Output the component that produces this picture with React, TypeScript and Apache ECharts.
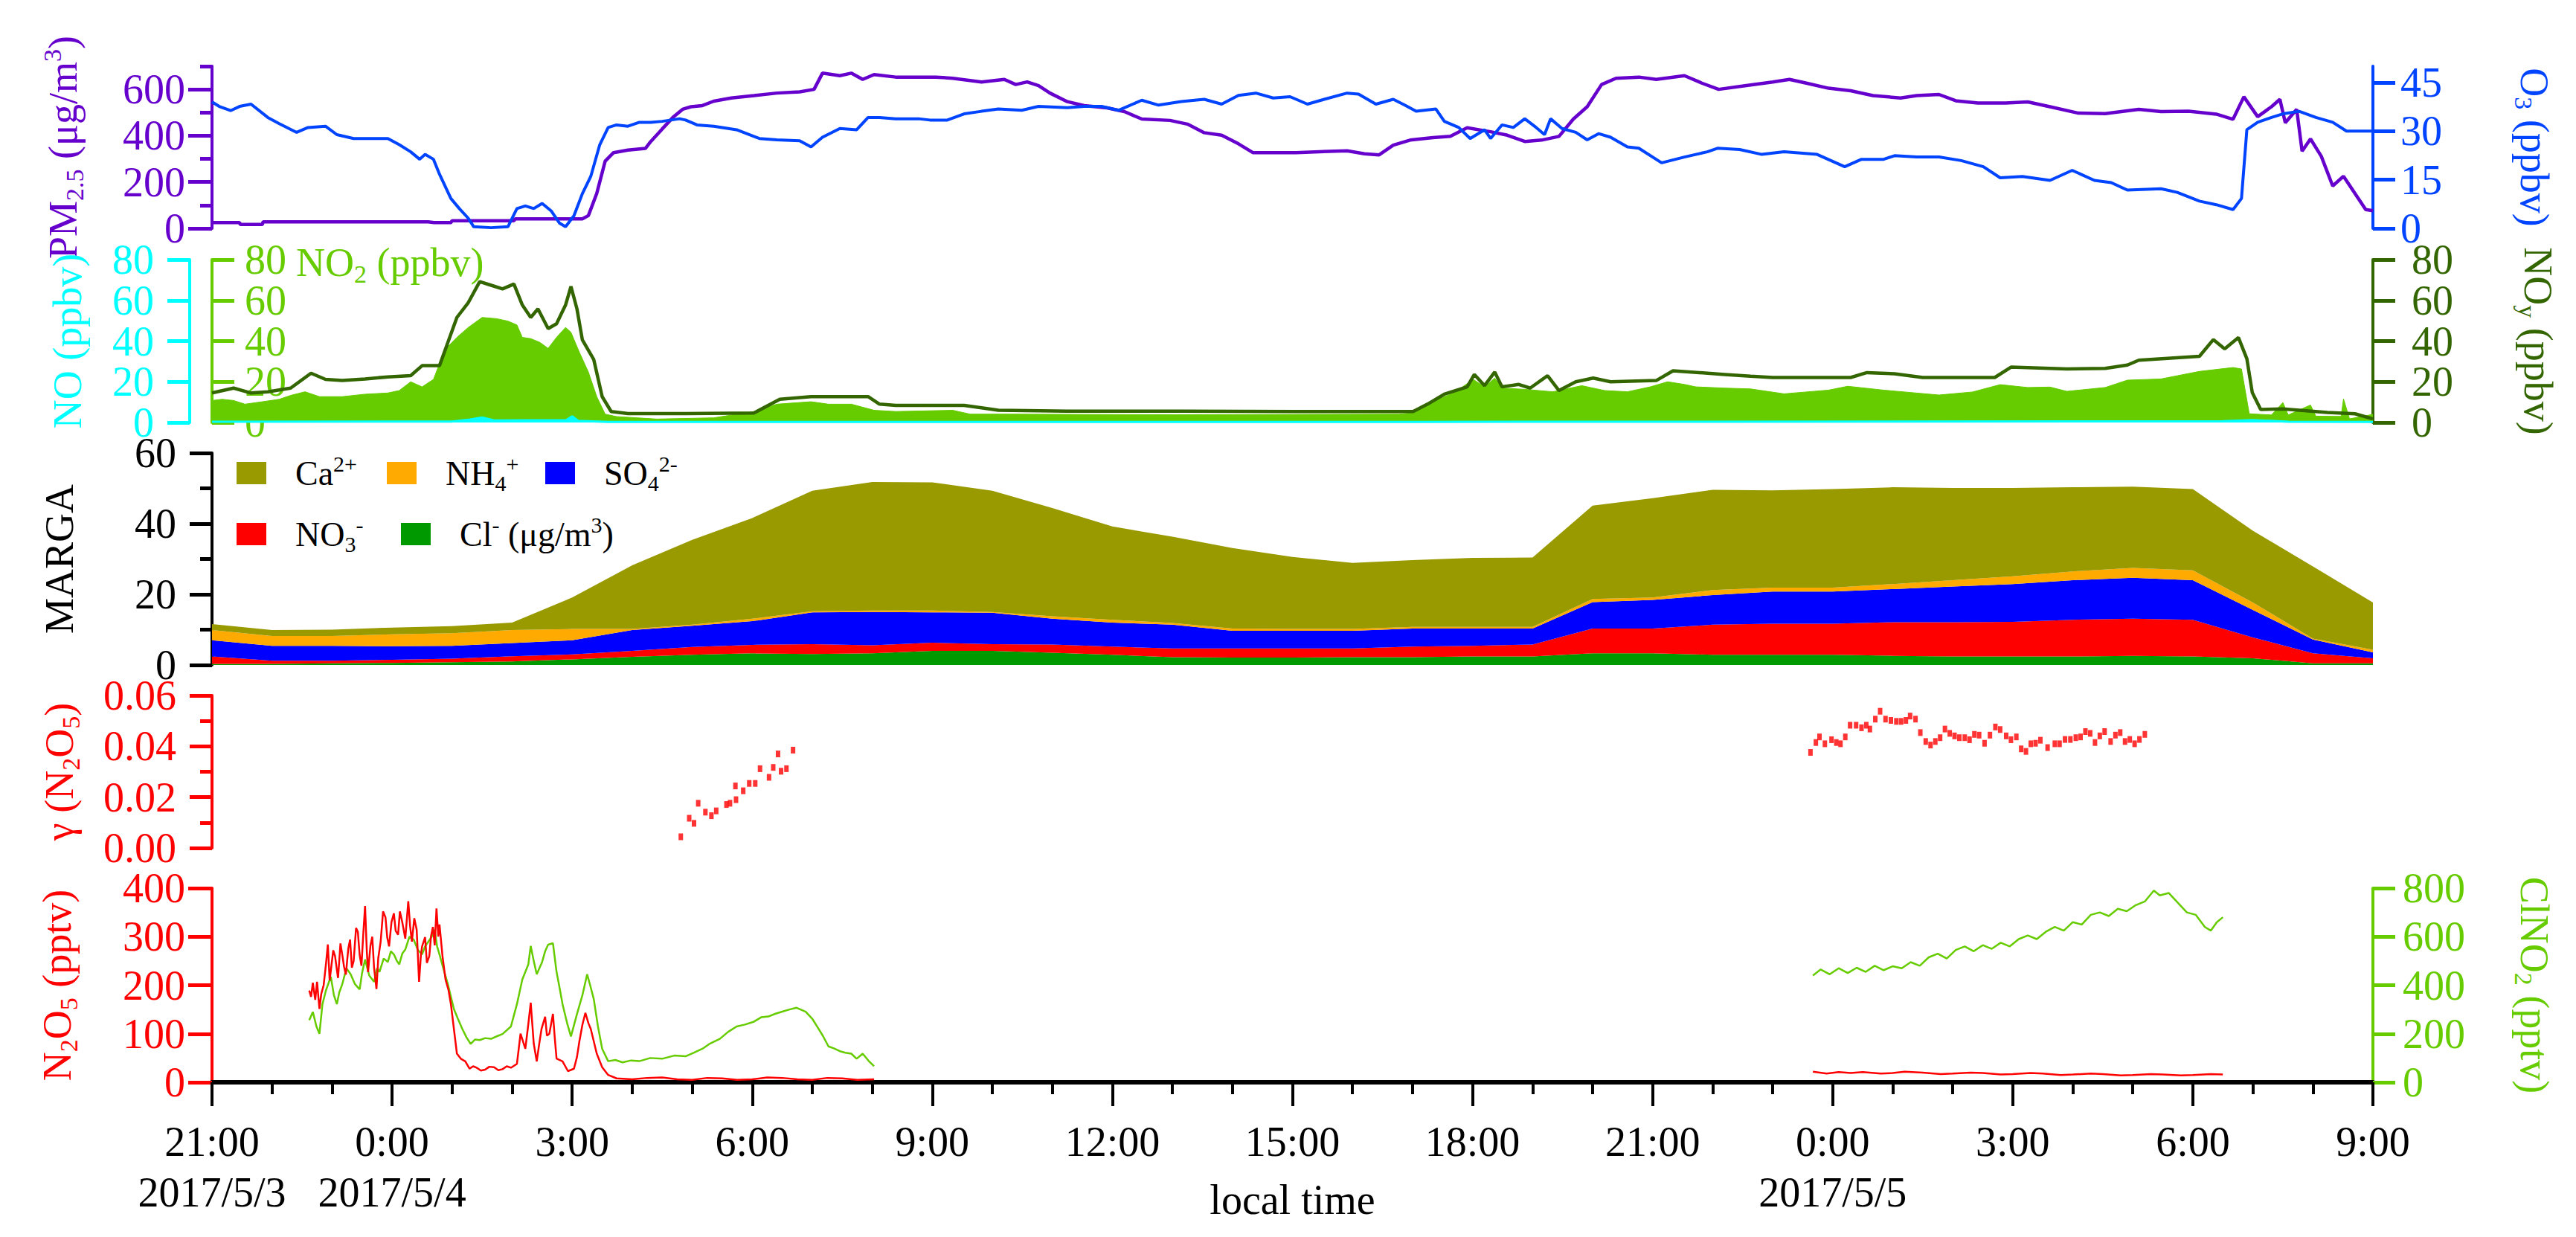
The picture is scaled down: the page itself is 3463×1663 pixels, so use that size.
import React, { useEffect, useRef } from 'react';
import * as echarts from 'echarts';

const FONT = '"Liberation Serif", "Times New Roman", Times, serif';

// x: hours since 2017/5/3 21:00 (local time)
const X_TICK_LABELS = ['21:00', '0:00', '3:00', '6:00', '9:00', '12:00', '15:00', '18:00', '21:00', '0:00', '3:00', '6:00', '9:00'];
const X_DATE_LABELS: Record<number, string> = { 0: '2017/5/3', 1: '2017/5/4', 9: '2017/5/5' };

const PM25: number[][] = [[0,25],[0.46,25],[0.47,17],[0.84,17],[0.85,28],[3.6,28],[3.7,25],[3.98,25],[4.0,33],[5.03,33],[5.05,41],[6.17,41],[6.27,55],[6.41,151],[6.55,290],[6.69,327],[6.93,338],[7.22,345],[7.31,375],[7.5,429],[7.69,482],[7.84,514],[7.98,525],[8.17,530],[8.36,549],[8.65,563],[9.03,573],[9.41,584],[9.79,589],[10.03,600],[10.17,670],[10.46,659],[10.65,670],[10.84,643],[11.03,664],[11.39,653],[11.68,653],[12.06,653],[12.34,648],[12.82,632],[13.2,643],[13.39,621],[13.58,632],[13.77,616],[13.96,584],[14.25,547],[14.53,530],[14.91,520],[15.2,504],[15.49,472],[15.96,466],[16.25,450],[16.53,413],[16.82,402],[17.1,365],[17.34,327],[18.06,327],[18.91,335],[19.2,322],[19.44,317],[19.68,359],[19.96,381],[20.34,392],[20.63,397],[20.91,434],[21.3,417],[21.58,402],[21.87,375],[22.15,381],[22.44,397],[22.68,472],[22.91,525],[23.15,621],[23.39,648],[23.77,653],[24.06,643],[24.53,659],[24.82,627],[25.1,600],[25.54,616],[26.0,632],[26.28,643],[26.56,627],[26.93,605],[27.3,594],[27.67,573],[28.13,563],[28.4,573],[28.77,578],[29.05,551],[29.42,541],[29.88,541],[30.25,546],[30.62,525],[31.08,498],[31.54,495],[32.1,514],[32.47,504],[32.93,506],[33.39,493],[33.67,471],[33.85,568],[34.08,482],[34.31,525],[34.45,557],[34.54,456],[34.73,514],[34.82,333],[34.96,386],[35.14,311],[35.33,183],[35.51,225],[35.7,151],[35.88,81],[36,76]];

const O3: number[][] = [[0,39],[0.12,37.6],[0.31,36.3],[0.46,37.6],[0.65,38.3],[0.93,34.2],[1.12,32.3],[1.41,29.6],[1.6,31.1],[1.89,31.5],[2.08,28.9],[2.36,27.7],[2.93,27.7],[3.12,25.8],[3.31,23.6],[3.46,21.3],[3.55,22.8],[3.69,21.3],[3.79,16.7],[3.98,9.2],[4.12,6.1],[4.27,3.1],[4.36,0.5],[4.65,0.2],[4.93,0.5],[5.08,6.1],[5.22,6.9],[5.36,6.1],[5.5,7.7],[5.65,5.4],[5.79,1.6],[5.89,0.5],[6.03,3.9],[6.17,10.7],[6.31,16],[6.46,25.8],[6.6,31.1],[6.74,31.9],[6.93,31.5],[7.12,32.7],[7.31,32.7],[7.5,33],[7.79,33.8],[7.89,33.4],[8.08,31.9],[8.36,31.5],[8.74,30.4],[9.12,27.7],[9.41,27.3],[9.79,27],[9.98,25.1],[10.17,28.1],[10.46,30.8],[10.74,30.4],[10.93,34.2],[11.12,34.2],[11.39,33.8],[11.77,33.8],[11.96,33.4],[12.25,33.4],[12.53,35.3],[12.82,36.1],[13.1,36.8],[13.49,36.4],[13.77,37.6],[14.25,37.2],[14.53,37.6],[14.82,37.6],[15.1,36.4],[15.49,39.5],[15.77,38],[16.15,39.1],[16.53,39.8],[16.82,38.3],[17.1,41],[17.39,41.7],[17.68,40.2],[17.96,40.6],[18.25,38.3],[18.53,39.8],[18.91,41.7],[19.1,41.4],[19.39,38.3],[19.68,39.8],[19.87,38],[20.06,36.1],[20.39,36.8],[20.53,33],[20.77,31.1],[20.96,27.7],[21.2,30.4],[21.3,27.7],[21.49,31.9],[21.68,31.1],[21.87,33.8],[22.06,31.1],[22.2,28.9],[22.3,33.8],[22.49,30.8],[22.72,29.6],[22.91,27.3],[23.1,29.2],[23.3,28.1],[23.58,25.1],[23.77,24.7],[24.15,20.2],[24.53,22],[24.91,23.6],[25.08,24.7],[25.45,24.3],[25.82,22.8],[26.19,23.6],[26.74,22.8],[27.2,19],[27.48,21.3],[27.85,21.3],[28.03,22.4],[28.4,22],[28.77,22],[29.14,20.9],[29.51,19],[29.79,15.6],[30.16,16],[30.62,14.8],[30.99,17.9],[31.36,14.8],[31.64,14.1],[31.91,11.8],[32.47,12.2],[32.74,11.1],[33.11,8.4],[33.39,7.3],[33.67,5.8],[33.81,9.2],[33.9,30.4],[34.08,32.7],[34.31,34.2],[34.5,35.3],[34.77,36.1],[35.05,34.2],[35.33,32.7],[35.56,30],[35.88,30],[36,30]];

const NO2: number[][] = [[0,10.8],[0.17,11.4],[0.36,10.8],[0.55,9],[0.84,10.2],[1.12,11.4],[1.31,13.3],[1.55,15.1],[1.79,12.7],[2.17,12.7],[2.55,13.9],[2.93,14.5],[3.12,15.7],[3.31,20],[3.5,17.5],[3.69,21.2],[3.88,35.8],[4.08,41.8],[4.27,46.7],[4.5,51.6],[4.74,51],[4.93,49.8],[5.08,47.9],[5.17,41.8],[5.31,41.2],[5.46,39.4],[5.6,36.4],[5.74,41.8],[5.89,46.7],[5.98,44.3],[6.12,34.5],[6.27,24.8],[6.41,12.7],[6.55,4.1],[6.74,2.9],[7.41,1.7],[8.36,2.3],[9.03,5.4],[9.41,9],[9.98,10.2],[10.27,9],[10.65,9],[11.03,6],[11.39,5.4],[12.34,6],[12.63,4.1],[13.3,4.1],[16,3.8],[19.77,4.1],[20.01,4.7],[20.34,10.2],[20.72,15.1],[21.01,21.2],[21.2,17.5],[21.37,21.8],[21.49,16.9],[21.87,16.3],[22.34,15.1],[22.82,18.1],[23.2,15.7],[23.58,15.1],[23.96,17.5],[24.25,20],[24.53,18.7],[24.72,17.5],[25.2,16.9],[25.63,16.5],[26.19,14.1],[26.93,15.9],[27.25,17.8],[27.85,15.9],[28.77,13.5],[29.33,15],[29.79,18.6],[30.25,17.2],[30.62,17.4],[30.9,15.3],[31.54,17.2],[31.91,20.8],[32.47,21.4],[33.11,25.1],[33.67,27],[33.81,26.3],[33.94,4.3],[34.31,3.7],[34.5,9.8],[34.59,3.7],[34.96,8.6],[35.05,3.1],[35.47,3],[35.51,11.6],[35.61,1.8],[36,4]];

const NOY: number[][] = [[0,14.5],[0.36,16.9],[0.65,14.5],[0.93,15.1],[1.31,16.9],[1.65,24.2],[1.89,21.2],[2.17,20.6],[2.55,21.4],[2.93,22.4],[3.31,23],[3.5,27.9],[3.79,27.9],[3.93,39.4],[4.08,51.6],[4.27,58.9],[4.46,69.2],[4.65,67.4],[4.84,65.6],[5.03,68],[5.17,57.7],[5.31,51.6],[5.43,55.8],[5.6,46.1],[5.74,48.5],[5.89,57.7],[5.98,66.8],[6.08,55.8],[6.17,40.6],[6.36,30.9],[6.5,12.7],[6.65,5.4],[6.93,4.4],[7.89,4.4],[9.03,4.7],[9.46,11.4],[9.98,12.7],[10.93,12.7],[11.12,9],[11.39,8.4],[12.53,8.4],[12.82,7.2],[13.1,6],[14.25,5.6],[16.15,5.6],[18.06,5.4],[20.01,5.4],[20.25,9],[20.53,13.9],[20.91,17.5],[21.03,23.6],[21.2,18.1],[21.37,24.8],[21.49,17.5],[21.77,18.7],[21.96,16.9],[22.25,23],[22.44,15.7],[22.72,20],[23.01,21.8],[23.3,20],[24.06,20.6],[24.34,25.4],[25.2,23.6],[25.63,22.7],[26,22.1],[27.3,22.1],[27.57,24.5],[28.03,23.9],[28.5,22.1],[29.7,22.1],[29.97,27.2],[30.9,26.3],[31.54,26.6],[31.91,28.2],[32.1,30.6],[33.11,32.5],[33.34,40.7],[33.53,36.2],[33.76,41.7],[33.9,31.3],[33.99,14.7],[34.13,6.4],[34.5,6.7],[35.24,4.9],[35.7,4.3],[36,1.8]];

const NO: number[][] = [[0,0.4],[4.0,0.5],[4.3,1.5],[4.5,2.5],[4.7,1.0],[5.9,1.2],[6.0,3.0],[6.1,0.8],[6.6,0.3],[20,0.3],[33.5,0.6],[34,1.2],[34.6,0.4],[36,0.3]];

// MARGA hourly, 21:00 May 3 ... 9:00 May 5 (µg/m3)
const MARGA_HOURS = [0,1,2,3,4,5,6,7,8,9,10,11,12,13,14,15,16,17,18,19,20,21,22,23,24,25,26,27,28,29,30,31,32,33,34,35,36];
const CL = [0.3,0.3,0.5,0.6,0.8,1.0,1.6,2.3,2.9,3.3,3.1,3.3,4.0,4.0,3.5,2.9,2.2,2.1,2.1,2.2,2.2,2.4,2.4,3.3,3.3,2.9,2.9,2.9,2.6,2.4,2.4,2.4,2.6,2.4,1.9,0.5,0.5];
const NO3 = [2.1,0.9,0.7,0.9,1.0,1.5,1.4,1.7,2.2,2.4,2.8,2.3,2.3,1.9,2.3,2.3,2.5,2.6,2.6,2.5,3.0,3.0,3.4,7.0,7.0,8.5,8.8,8.8,9.5,9.7,9.8,10.4,10.5,10.4,5.9,2.8,1.4];
const SO4 = [4.6,4.2,4.2,3.8,3.6,3.7,4.0,5.9,6.0,6.7,9.0,9.4,8.6,8.9,7.3,6.8,6.7,5.0,5.0,5.0,5.1,4.9,4.5,7.5,8.1,8.4,9.1,9.1,9.4,10.1,10.7,11.2,11.6,11.2,7.8,3.9,1.7];
const NH4 = [2.9,2.8,2.8,3.4,3.6,3.7,3.2,0.3,0.3,0.7,0.3,0.4,0.5,0.2,0.7,0.8,0.5,0.6,0.5,0.5,0.5,0.5,0.5,0.9,0.7,1.4,1.1,1.1,1.4,1.8,2.2,2.5,2.8,2.8,2.1,0.3,0.7];
const CA = [1.7,1.7,1.8,1.9,2.0,2.1,8.9,18.0,24.0,28.5,34.1,36.4,36.3,34.3,30.6,26.4,24.4,22.8,20.4,18.7,18.9,19.5,19.6,26.4,28.1,28.4,27.5,27.9,27.4,26.1,25.0,23.8,23.0,23.0,20.3,20.4,13.4];

const GAMMA: number[][] = [[7.81,0.0044],[7.95,0.0117],[8.03,0.0097],[8.1,0.0176],[8.22,0.0141],[8.32,0.0127],[8.4,0.0146],[8.57,0.0171],[8.63,0.0176],[8.72,0.0244],[8.73,0.019],[8.85,0.0225],[8.95,0.0254],[9.05,0.0254],[9.13,0.0312],[9.28,0.0278],[9.35,0.0317],[9.43,0.037],[9.48,0.0302],[9.57,0.0312],[9.68,0.0385],
[26.63,0.0376],[26.72,0.0415],[26.78,0.0437],[26.87,0.041],[26.98,0.0426],[27.06,0.0415],[27.13,0.041],[27.21,0.0437],[27.29,0.0483],[27.39,0.0483],[27.48,0.0473],[27.56,0.0483],[27.62,0.0468],[27.71,0.0507],[27.79,0.0538],[27.88,0.0507],[27.97,0.0502],[28.06,0.0498],[28.14,0.0498],[28.22,0.0502],[28.29,0.0519],[28.38,0.0507],[28.46,0.0454],[28.55,0.0419],[28.63,0.0405],[28.71,0.0419],[28.79,0.0434],[28.87,0.0468],[28.95,0.0451],[29.03,0.0441],[29.11,0.0434],[29.2,0.0434],[29.28,0.0426],[29.36,0.0447],[29.44,0.0444],[29.53,0.0412],[29.62,0.0444],[29.71,0.0476],[29.79,0.0466],[29.89,0.0441],[29.97,0.0426],[30.06,0.0437],[30.14,0.039],[30.22,0.038],[30.3,0.041],[30.38,0.0412],[30.46,0.0424],[30.58,0.0395],[30.7,0.041],[30.78,0.041],[30.87,0.0427],[30.96,0.0427],[31.05,0.0434],[31.13,0.0437],[31.21,0.0458],[31.29,0.0451],[31.37,0.0415],[31.45,0.0441],[31.53,0.0458],[31.63,0.0419],[31.71,0.0444],[31.79,0.0454],[31.87,0.0419],[31.95,0.0427],[32.03,0.041],[32.11,0.0427],[32.2,0.0447]];

const N2O5_NIGHT1: number[][] = [[1.62,189],[1.65,176],[1.68,205],[1.72,170],[1.75,207],[1.79,151],[1.82,182],[1.86,200],[1.9,245],[1.93,284],[1.96,210],[1.98,230],[2.02,272],[2.05,260],[2.08,232],[2.1,215],[2.14,286],[2.17,263],[2.2,238],[2.23,222],[2.27,275],[2.3,294],[2.33,236],[2.36,250],[2.4,318],[2.43,310],[2.46,262],[2.49,240],[2.52,305],[2.55,363],[2.58,268],[2.6,227],[2.64,282],[2.67,300],[2.7,236],[2.74,192],[2.77,256],[2.81,290],[2.85,352],[2.89,340],[2.92,298],[2.95,280],[2.99,330],[3.03,348],[3.06,312],[3.1,304],[3.13,352],[3.17,330],[3.22,296],[3.27,373],[3.3,322],[3.33,290],[3.37,338],[3.41,314],[3.45,207],[3.48,262],[3.5,280],[3.55,299],[3.58,246],[3.62,260],[3.65,302],[3.68,320],[3.71,282],[3.74,358],[3.77,300],[3.79,325],[3.84,260],[3.89,212],[3.94,190],[3.98,161],[4.03,110],[4.08,59],[4.15,48],[4.22,43],[4.29,28],[4.35,33],[4.41,30],[4.48,24],[4.55,26],[4.62,32],[4.7,31],[4.77,25],[4.84,27],[4.91,33],[4.98,30],[5.08,38],[5.14,100],[5.22,69],[5.27,120],[5.31,164],[5.36,80],[5.41,43],[5.45,78],[5.49,110],[5.55,135],[5.58,96],[5.62,100],[5.68,141],[5.71,92],[5.74,49],[5.84,43],[5.93,23],[6.03,28],[6.08,52],[6.12,84],[6.17,118],[6.22,143],[6.27,122],[6.31,110],[6.41,59],[6.5,31],[6.6,15],[6.74,8],[7.0,6],[7.25,9],[7.5,10],[7.75,6],[8.0,5],[8.25,9],[8.5,8],[8.75,5],[9.0,6],[9.25,10],[9.5,9],[9.75,6],[10.0,5],[10.25,9],[10.5,8],[10.75,5],[11.03,6]];
const N2O5_NIGHT2: number[][] = [[26.67,22],[26.9,18],[27.1,21],[27.3,19],[27.5,21],[27.8,18],[28.0,19],[28.2,22],[28.5,20],[28.8,17],[29.0,18],[29.3,20],[29.5,19],[29.8,16],[30.0,17],[30.3,19],[30.5,18],[30.8,15],[31.0,16],[31.3,18],[31.5,17],[31.8,14],[32.0,15],[32.3,17],[32.5,16],[32.8,14],[33.0,15],[33.3,17],[33.5,16]];
const CLNO2_NIGHT1: number[][] = [[1.62,256],[1.68,290],[1.74,230],[1.79,200],[1.84,322],[1.9,380],[1.98,435],[2.03,360],[2.08,322],[2.12,370],[2.17,404],[2.24,470],[2.31,445],[2.38,405],[2.46,383],[2.5,450],[2.55,506],[2.62,440],[2.7,414],[2.75,470],[2.79,455],[2.86,510],[2.93,496],[2.98,540],[3.03,527],[3.08,500],[3.12,486],[3.17,530],[3.22,547],[3.29,600],[3.36,588],[3.43,545],[3.5,527],[3.55,560],[3.6,578],[3.66,600],[3.71,629],[3.75,560],[3.79,527],[3.87,455],[3.93,404],[4.03,302],[4.1,260],[4.17,220],[4.24,185],[4.31,158],[4.38,176],[4.46,174],[4.55,182],[4.65,179],[4.75,190],[4.84,199],[4.98,230],[5.08,322],[5.17,424],[5.27,486],[5.31,562],[5.36,500],[5.41,445],[5.5,496],[5.55,540],[5.6,567],[5.68,573],[5.74,455],[5.79,390],[5.84,322],[5.92,240],[5.98,189],[6.08,281],[6.17,358],[6.25,445],[6.3,400],[6.36,343],[6.43,230],[6.5,138],[6.6,87],[6.72,92],[6.84,82],[6.98,90],[7.12,87],[7.3,100],[7.5,97],[7.7,110],[7.89,107],[8.03,122],[8.17,138],[8.3,160],[8.46,179],[8.6,208],[8.74,230],[8.88,238],[9.03,250],[9.15,268],[9.27,271],[9.38,282],[9.5,291],[9.62,300],[9.74,307],[9.89,291],[10.0,262],[10.08,230],[10.18,190],[10.27,148],[10.36,140],[10.46,128],[10.55,122],[10.65,118],[10.74,97],[10.84,118],[10.94,88],[11.03,66]];
const CLNO2_NIGHT2: number[][] = [[26.67,440],[26.8,465],[26.95,445],[27.1,470],[27.25,450],[27.4,472],[27.55,455],[27.7,480],[27.85,462],[28.0,478],[28.15,470],[28.3,495],[28.45,480],[28.6,515],[28.75,530],[28.9,510],[29.05,545],[29.2,560],[29.35,540],[29.5,565],[29.65,550],[29.8,575],[29.95,560],[30.1,590],[30.25,605],[30.4,590],[30.55,620],[30.7,640],[30.85,625],[31.0,660],[31.15,650],[31.3,690],[31.45,700],[31.6,685],[31.75,715],[31.9,705],[32.05,730],[32.2,745],[32.35,790],[32.45,770],[32.6,780],[32.75,740],[32.9,700],[33.05,690],[33.2,640],[33.3,625],[33.4,660],[33.5,680]];

const C = {
  pm: '#6600cc', o3: '#0044ff', no: '#00ffff', no2: '#66cc00', noy: '#336600',
  ca: '#999900', nh4: '#ffaa00', so4: '#0000ff', no3: '#ff0000', cl: '#009900',
  red: '#ff0000', clno2: '#66cc00', black: '#000000',
};

const TICK_FS = 56;
const NAME_FS = 54;
const NOX_TICKS = [0, 20, 40, 60, 80];
const NOX_LABELS_A = [0, 40, 80];
const NOX_LABELS_B = [20, 60];

function nameRich(color: string) {
  return {
    n: { fontSize: NAME_FS, lineHeight: 64, color, fontFamily: FONT },
    s: { fontSize: 34, lineHeight: 34, verticalAlign: 'bottom', color, fontFamily: FONT },
    p: { fontSize: 34, lineHeight: 34, verticalAlign: 'top', color, fontFamily: FONT },
    g: { width: 113, fontSize: NAME_FS, lineHeight: 64 },
  };
}

function yAxis(gridIndex: number, color: string, o: any) {
  return {
    type: 'value', gridIndex, position: o.position || 'left', offset: o.offset || 0,
    min: o.min, max: o.max, interval: o.interval,
    splitLine: { show: false },
    axisLine: { show: o.line !== false, onZero: false, lineStyle: { color, width: 4 } },
    axisTick: { show: o.tick !== false, inside: !!o.inside, length: o.tickLen || 30, customValues: o.tickValues, lineStyle: { color, width: 5 } },
    minorTick: { show: !!o.minor, splitNumber: 2, length: 16, lineStyle: { color, width: 5 } },
    axisLabel: { show: o.label !== false, inside: !!o.inside, interval: 0, showMinLabel: true, showMaxLabel: true, hideOverlap: false,
      customValues: o.labelValues, formatter: o.formatter, margin: o.margin || 36, color, fontSize: TICK_FS, lineHeight: 40, fontFamily: FONT },
    name: o.name, nameLocation: o.nameLocation || 'middle', nameRotate: o.nameRotate, nameGap: o.nameGap,
    nameMoveOverlap: false,
    nameTextStyle: Object.assign({ color, fontSize: NAME_FS, fontFamily: FONT, rich: nameRich(color) }, o.nameStyle || {}),
  };
}

function buildOption() {
  const grids = [
    { left: 285, right: 273, top: 89, height: 218 },
    { left: 285, right: 273, top: 349, height: 219 },
    { left: 285, right: 273, top: 609, height: 285 },
    { left: 285, right: 273, top: 935, height: 205 },
    { left: 285, right: 273, top: 1194, height: 261 },
  ];
  const xAxes = grids.map((_, i) => {
    if (i === 2) return { type: 'category', gridIndex: i, data: MARGA_HOURS.map(String), boundaryGap: false, show: false };
    if (i < 4) return { type: 'value', gridIndex: i, min: 0, max: 36, interval: 3, show: false };
    return {
      type: 'value', gridIndex: i, min: 0, max: 36, interval: 3,
      splitLine: { show: false },
      axisLine: { onZero: false, lineStyle: { color: C.black, width: 6 } },
      axisTick: { length: 32, lineStyle: { color: C.black, width: 4 } },
      minorTick: { show: true, splitNumber: 3, length: 16, lineStyle: { color: C.black, width: 4 } },
      axisLabel: {
        margin: 46, color: C.black, fontSize: TICK_FS, fontFamily: FONT, lineHeight: 68,
        interval: 0, showMinLabel: true, showMaxLabel: true, hideOverlap: false,
        formatter: (v: number) => {
          const k = Math.round(v / 3);
          const d = X_DATE_LABELS[k];
          return d ? X_TICK_LABELS[k] + '\n' + d : X_TICK_LABELS[k];
        },
      },
      name: 'local time', nameLocation: 'middle', nameGap: 130, nameMoveOverlap: false,
      nameTextStyle: { color: C.black, fontSize: TICK_FS, lineHeight: 56, fontFamily: FONT },
    };
  });

  const yAxes = [
    // 0 PM2.5
    yAxis(0, C.pm, { min: 0, max: 700, interval: 100, tickLen: 32, tickValues: [0, 200, 400, 600], labelValues: [0, 200, 400, 600], margin: 36,
      name: '{n|PM}{s|2.5}{n| (μg/m}{p|3}{n|)}', nameRotate: 90, nameGap: 168 }),
    // 1 PM2.5 minor ticks
    yAxis(0, C.pm, { min: 0, max: 700, interval: 100, line: false, label: false, tickLen: 16, tickValues: [100, 300, 500, 700] }),
    // 2 O3
    yAxis(0, C.o3, { position: 'right', min: 0, max: 50, interval: 5, tickValues: [0, 15, 30, 45], labelValues: [0, 15, 30, 45], margin: 37,
      name: '{n|O}{s|3}{n| (ppbv)}', nameRotate: -90, nameGap: 185 }),
    // 3 NO2 (inner)
    yAxis(1, C.no2, { min: 0, max: 80, interval: 20, inside: true, margin: 44, tickValues: NOX_TICKS, labelValues: NOX_LABELS_A,
      name: '{g| }{n|NO}{s|2}{n| (ppbv)}', nameLocation: 'end', nameRotate: 0, nameGap: -4,
      nameStyle: { align: 'left', verticalAlign: 'middle' } }),
    // 4 NO (outer)
    yAxis(1, C.no, { offset: 30, min: 0, max: 80, interval: 20, margin: 48, tickValues: NOX_TICKS, labelValues: NOX_LABELS_A,
      name: '{n|NO (ppbv)}', nameRotate: 90, nameGap: 132 }),
    // 5 NOy
    yAxis(1, C.noy, { position: 'right', min: 0, max: 80, interval: 20, margin: 52, tickValues: NOX_TICKS, labelValues: NOX_LABELS_A,
      name: '{n|NO}{s|y}{n| (ppbv)}', nameRotate: -90, nameGap: 190 }),
    // 6 MARGA
    yAxis(2, C.black, { min: 0, max: 60, interval: 20, minor: true, margin: 48,
      name: '{n|MARGA}', nameRotate: 90, nameGap: 173 }),
    // 7 gamma
    yAxis(3, C.red, { min: 0, max: 0.06, interval: 0.02, minor: true, margin: 48, formatter: (v: number) => v.toFixed(2),
      name: '{n|γ (N}{s|2}{n|O}{s|5}{n|)}', nameRotate: 90, nameGap: 173 }),
    // 8 N2O5
    yAxis(4, C.red, { min: 0, max: 400, interval: 100, tickLen: 32, margin: 36,
      name: '{n|N}{s|2}{n|O}{s|5}{n| (pptv)}', nameRotate: 90, nameGap: 176 }),
    // 9 ClNO2
    yAxis(4, C.clno2, { position: 'right', min: 0, max: 800, interval: 200, margin: 40,
      name: '{n|ClNO}{s|2}{n| (pptv)}', nameRotate: -90, nameGap: 185 }),
    // 10-12: companion label-only axes carrying the 20 and 60 labels of NO2, NO, NOy
    yAxis(1, C.no2, { min: 0, max: 80, interval: 20, inside: true, margin: 44, line: false, tick: false, labelValues: NOX_LABELS_B }),
    yAxis(1, C.no, { offset: 30, min: 0, max: 80, interval: 20, margin: 48, line: false, tick: false, labelValues: NOX_LABELS_B }),
    yAxis(1, C.noy, { position: 'right', min: 0, max: 80, interval: 20, margin: 52, line: false, tick: false, labelValues: NOX_LABELS_B }),
  ];

  const line = (name: string, data: number[][], xi: number, yi: number, color: string, width: number, extra: any = {}) => ({
    type: 'line', name, data, xAxisIndex: xi, yAxisIndex: yi, showSymbol: false, symbol: 'none',
    lineStyle: { color, width }, itemStyle: { color }, ...extra,
  });

  const stackSeries = [
    { name: 'Cl-', data: CL, color: C.cl },
    { name: 'NO3-', data: NO3, color: C.no3 },
    { name: 'SO42-', data: SO4, color: C.so4 },
    { name: 'NH4+', data: NH4, color: C.nh4 },
    { name: 'Ca2+', data: CA, color: C.ca },
  ].map((s) => ({
    type: 'line', name: s.name, stack: 'marga', xAxisIndex: 2, yAxisIndex: 6,
    data: s.data,
    showSymbol: false, symbol: 'none',
    lineStyle: { width: 0, color: s.color }, itemStyle: { color: s.color },
    areaStyle: { color: s.color, opacity: 1 },
  }));

  const series = [
    line('PM2.5', PM25, 0, 0, C.pm, 4.5),
    line('O3', O3, 0, 2, C.o3, 4),
    line('NO2', NO2, 1, 3, C.no2, 1, { areaStyle: { color: C.no2, opacity: 1 } }),
    line('NO', NO, 1, 4, C.no, 3, { areaStyle: { color: C.no, opacity: 1 } }),
    line('NOy', NOY, 1, 5, C.noy, 4.5),
    ...stackSeries,
    { type: 'scatter', name: 'gamma', data: GAMMA, xAxisIndex: 3, yAxisIndex: 7, symbol: 'rect', symbolSize: [6, 9], itemStyle: { color: C.red } },
    line('ClNO2', CLNO2_NIGHT1, 4, 9, C.clno2, 2.5),
    line('ClNO2 night 2', CLNO2_NIGHT2, 4, 9, C.clno2, 2.5),
    line('N2O5', N2O5_NIGHT1, 4, 8, C.red, 2.5),
    line('N2O5 night 2', N2O5_NIGHT2, 4, 8, C.red, 2.5),
  ];

  const legRich = {
    g: { width: 34, fontSize: 46, lineHeight: 56 },
    n: { fontSize: 46, lineHeight: 56, color: C.black, fontFamily: FONT },
    b: { fontSize: 30, lineHeight: 30, verticalAlign: 'bottom', color: C.black, fontFamily: FONT },
    p: { fontSize: 30, lineHeight: 30, verticalAlign: 'top', color: C.black, fontFamily: FONT },
  };
  const LEGEND_TEXT: Record<string, string> = {
    'Ca2+': '{g| }{n|Ca}{p|2+}',
    'NH4+': '{g| }{n|NH}{b|4}{p|+}',
    'SO42-': '{g| }{n|SO}{b|4}{p|2-}',
    'NO3-': '{g| }{n|NO}{b|3}{p|-}',
    'Cl-': '{g| }{n|Cl}{p|-}{n| (μg/m}{p|3}{n|)}',
  };
  const legendPos: [string, number, number][] = [
    ['Ca2+', 318, 608], ['NH4+', 520, 608], ['SO42-', 733, 608], ['NO3-', 318, 690], ['Cl-', 539, 690],
  ];
  const legends = legendPos.map(([name, left, top]) => ({
    data: [name], left, top, padding: 0, itemWidth: 40, itemHeight: 30, icon: 'rect', selectedMode: false,
    formatter: (n: string) => LEGEND_TEXT[n],
    textStyle: { rich: legRich, fontFamily: FONT, fontSize: 46 },
  }));

  return {
    animation: false,
    backgroundColor: '#ffffff',
    textStyle: { fontFamily: FONT },
    grid: grids,
    xAxis: xAxes,
    yAxis: yAxes,
    legend: legends,
    series,
  };
}

export default function App() {
  const ref = useRef<HTMLDivElement>(null);
  useEffect(() => {
    if (!ref.current) return;
    const chart = echarts.init(ref.current, null, { renderer: 'svg' });
    chart.setOption(buildOption() as any);
    return () => chart.dispose();
  }, []);
  return <div ref={ref} style={{ position: 'fixed', left: 0, top: 0, width: 3463, height: 1663, background: '#fff' }} />;
}
